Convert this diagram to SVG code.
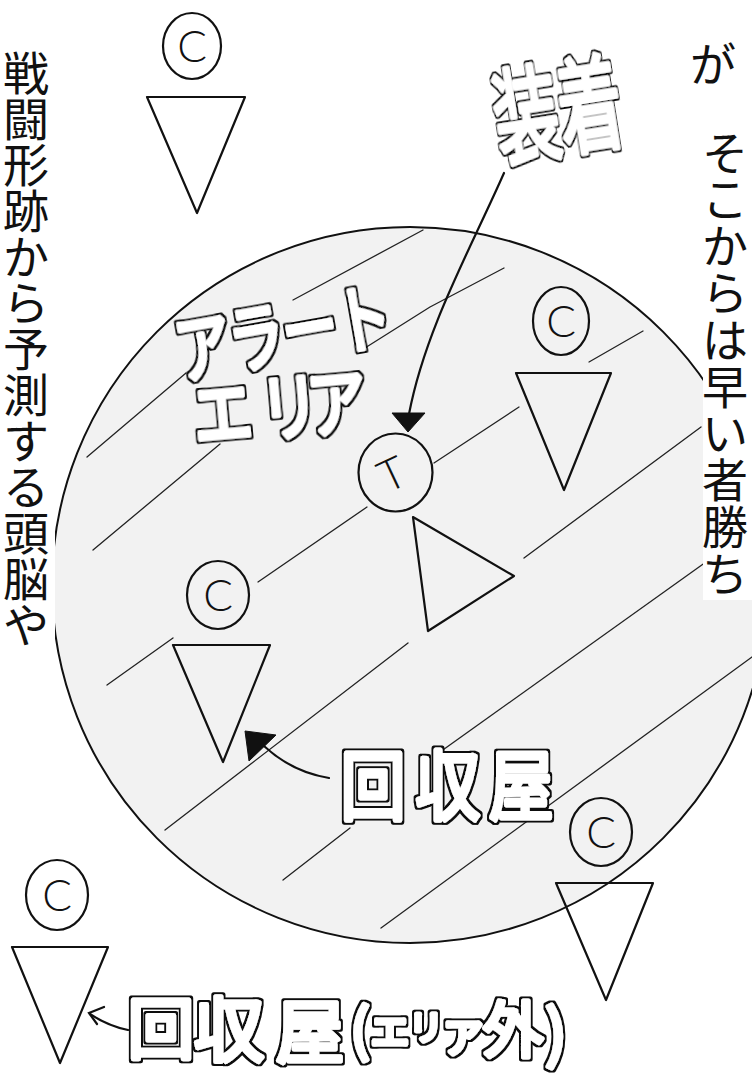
<svg xmlns="http://www.w3.org/2000/svg" width="752" height="1083" viewBox="0 0 752 1083">
  <style>
    .edge { fill: none; stroke: #111; stroke-width: 2.2; stroke-linejoin: round; }
    .hatch { fill: none; stroke: #222; stroke-width: 1.3; stroke-linecap: round; stroke-linejoin: round; }
    .cl { font-family: "Lato", "Liberation Sans", Arial, sans-serif; font-weight: 300; font-size: 44px; fill: #111; text-anchor: middle; }
    .vt { font-family: "Noto Sans CJK JP", sans-serif; font-size: 46px; fill: #111; text-anchor: middle; }
    .hollow { font-family: "Noto Sans CJK JP", sans-serif; fill: #fff; stroke: #fff; stroke-width: 5; stroke-linejoin: round; text-anchor: middle; }
    .conn { fill: none; stroke: #111; stroke-width: 2.2; stroke-linecap: round; }
    .head { fill: #111; stroke: #111; stroke-width: 1; stroke-linejoin: round; }
  </style>
  <defs>
    <filter id="outline" x="-20%" y="-20%" width="140%" height="140%">
      <feMorphology in="SourceAlpha" operator="dilate" radius="1.6" result="d"/>
      <feFlood flood-color="#111"/>
      <feComposite in2="d" operator="in" result="o"/>
      <feMerge><feMergeNode in="o"/><feMergeNode in="SourceGraphic"/></feMerge>
    </filter>
    <filter id="outlineN" x="-20%" y="-20%" width="140%" height="140%">
      <feMorphology in="SourceAlpha" operator="dilate" radius="2.2 1.6" result="d"/>
      <feFlood flood-color="#111"/>
      <feComposite in2="d" operator="in" result="o"/>
      <feMerge><feMergeNode in="o"/><feMergeNode in="SourceGraphic"/></feMerge>
    </filter>
  </defs>

  <rect width="752" height="1083" fill="#fff"/>

  <!-- alert area -->
  <g id="alert-area">
    <circle cx="410" cy="585" r="358" fill="#f2f2f2" stroke="#111" stroke-width="2"/>
    <g class="hatch">
      <polyline points="87,457 186,373"/>
      <polyline points="293,300 423,230"/>
      <polyline points="93,550 220,444"/>
      <polyline points="357,353 430,307 504,268"/>
      <polyline points="107,685 173,638"/>
      <polyline points="258,582 367,507"/>
      <polyline points="434,463 519,407"/>
      <polyline points="589,362 643,331"/>
      <polyline points="165,830 408,643"/>
      <polyline points="524,558 701,427"/>
      <polyline points="283,880 350,828"/>
      <polyline points="440,752 706,562"/>
      <polyline points="381,928 752,657"/>
    </g>
  </g>

  <!-- text columns (vertical, one character per line) -->
  <g id="left-column">
    <rect x="0" y="40" width="55" height="620" fill="#fff"/>
    <text class="vt"><tspan x="26" y="89.5">戦</tspan><tspan x="26" y="135.5">闘</tspan><tspan x="26" y="181.5">形</tspan><tspan x="26" y="227.5">跡</tspan><tspan x="26" y="273.5">か</tspan><tspan x="26" y="319.5">ら</tspan><tspan x="26" y="365.5">予</tspan><tspan x="26" y="411.5">測</tspan><tspan x="26" y="457.5">す</tspan><tspan x="26" y="503.5">る</tspan><tspan x="26" y="549.5">頭</tspan><tspan x="26" y="595.5">脳</tspan><tspan x="26" y="641.5">や</tspan></text>
  </g>
  <g id="right-column">
    <rect x="703" y="0" width="49" height="600" fill="#fff"/>
    <text class="vt"><tspan x="713" y="80.5">が</tspan><tspan x="725" y="169.5">そ</tspan><tspan x="725" y="216.3">こ</tspan><tspan x="725" y="263.1">か</tspan><tspan x="725" y="309.9">ら</tspan><tspan x="725" y="356.7">は</tspan><tspan x="725" y="403.5">早</tspan><tspan x="725" y="450.3">い</tspan><tspan x="725" y="497.1">者</tspan><tspan x="725" y="543.9">勝</tspan><tspan x="725" y="590.7">ち</tspan></text>
  </g>

  <!-- nodes -->
  <g id="collector-top-left">
    <ellipse class="edge" cx="192" cy="46" rx="29" ry="33"/>
    <text class="cl" x="192" y="62">C</text>
    <polygon class="edge" points="147,97 245,97 197,213"/>
  </g>
  <g id="collector-inner-right">
    <ellipse class="edge" cx="561" cy="321" rx="28" ry="34"/>
    <text class="cl" x="561" y="337">C</text>
    <polygon class="edge" points="516,373 611,373 564,490"/>
  </g>
  <g id="wearer-T">
    <ellipse class="edge" cx="395.5" cy="472.5" rx="37" ry="39"/>
    <text class="cl" font-size="50" font-weight="400" transform="translate(391,472) rotate(-25)" x="0" y="18">T</text>
    <polygon class="edge" points="413,517 514,576 428,631"/>
  </g>
  <g id="collector-inner-left">
    <ellipse class="edge" cx="218" cy="595" rx="31" ry="34"/>
    <text class="cl" x="218" y="611">C</text>
    <polygon class="edge" points="173,645 270,645 223,762"/>
  </g>
  <g id="collector-bottom-right">
    <ellipse class="edge" cx="601" cy="832" rx="31" ry="34"/>
    <text class="cl" x="601" y="848">C</text>
    <polygon class="edge" points="556,883 653,883 606,1000"/>
  </g>
  <g id="collector-bottom-left">
    <ellipse class="edge" cx="57" cy="895" rx="31" ry="35"/>
    <text class="cl" x="57" y="911">C</text>
    <polygon class="edge" points="12,947 108,947 60,1063"/>
  </g>

  <!-- connectors -->
  <g id="connectors">
    <path class="conn" d="M504,173 C470,250 425,330 409,414"/>
    <polygon class="head" points="392,413 425,413 408,432"/>
    <path class="conn" d="M329,778 Q292,772 264,746"/>
    <polygon class="head" points="245,731 276,735 249,761"/>
    <path class="conn" d="M128,1030 Q108,1026 90,1014"/>
    <polyline class="conn" points="104,1007 89,1013 97,1024"/>
  </g>

  <!-- hollow hand-lettered labels -->
  <g id="label-wearer" transform="translate(558,110) rotate(-9) scale(0.62,1)">
    <text class="hollow" filter="url(#outlineN)" font-size="104" x="-52 52" y="39">装着</text>
  </g>
  <g id="label-alert" transform="translate(283,332) rotate(-10) scale(0.75,1)">
    <text class="hollow" filter="url(#outlineN)" font-size="74" x="-108 -36 36 108" y="28">アラート</text>
  </g>
  <g id="label-area" transform="translate(280,407) rotate(-5) scale(0.8,1)">
    <text class="hollow" filter="url(#outlineN)" font-size="74" x="-72 12 71" y="28">エリア</text>
  </g>
  <g id="label-collector" transform="translate(447,785) scale(0.85,1)">
    <text class="hollow" filter="url(#outlineN)" font-size="76" x="-87 1 87" y="29">回収屋</text>
  </g>
  <g id="label-collector-outside">
    <text class="hollow" filter="url(#outline)"><tspan font-size="66" x="161" y="1053">回</tspan><tspan font-size="70" x="229" y="1056">収</tspan><tspan font-size="68" x="310" y="1057">屋</tspan><tspan font-size="56" x="360" y="1050">(</tspan><tspan font-size="38" x="390" y="1045">エ</tspan><tspan font-size="34" x="426" y="1040">リ</tspan><tspan font-size="40" x="463" y="1052">ア</tspan><tspan font-size="60" x="513" y="1052">外</tspan><tspan font-size="62" x="556" y="1056">)</tspan></text>
  </g>
</svg>
